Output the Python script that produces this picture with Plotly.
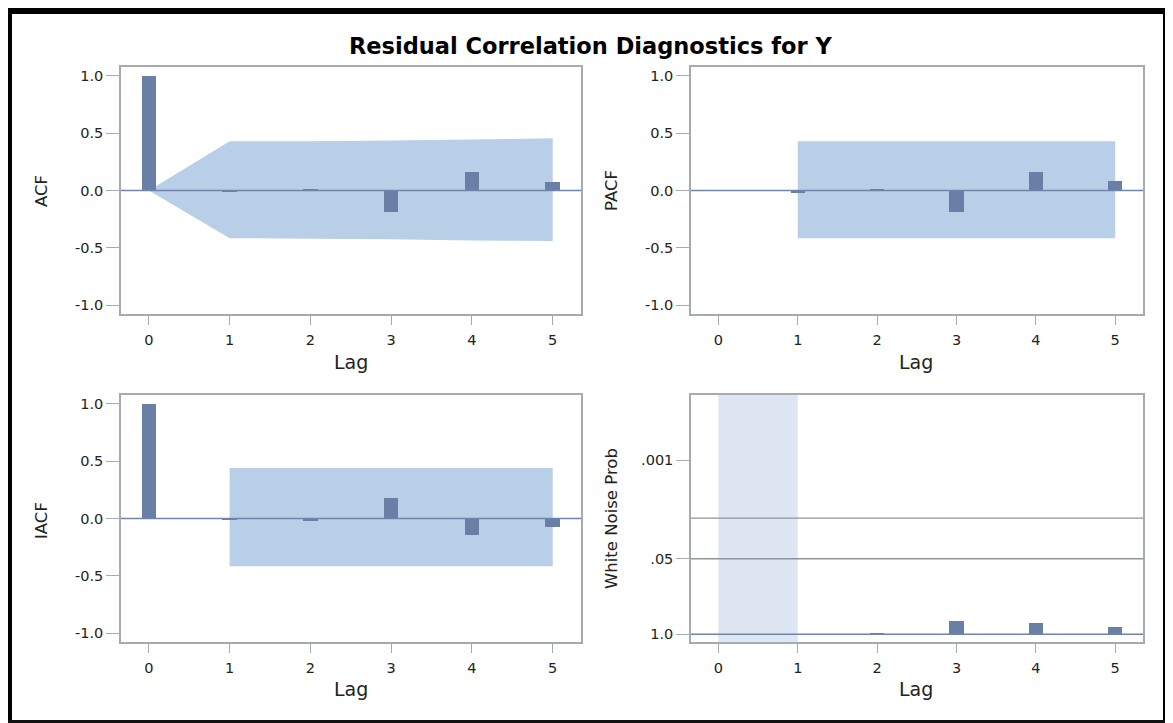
import math
import plotly.graph_objects as go

# ---------------- data ----------------
lags = [0, 1, 2, 3, 4, 5]
acf = [1.0, -0.015, 0.01, -0.19, 0.165, 0.07]
acf_upper = [0.0, 0.43, 0.43, 0.435, 0.445, 0.455]
acf_lower = [0.0, -0.415, -0.42, -0.425, -0.435, -0.44]

pacf_lags = [1, 2, 3, 4, 5]
pacf = [-0.02, 0.01, -0.19, 0.16, 0.08]
pacf_limit = [0.43, -0.415]

iacf = [1.0, -0.01, -0.025, 0.18, -0.14, -0.075]
iacf_limit = [0.44, -0.415]

wn_lags = [2, 3, 4, 5]
wn_prob = [0.96, 0.59, 0.63, 0.75]
wn_ticks = [1.0, 0.05, 0.001]
wn_tick_text = ["1.0", ".05", ".001"]
wn_ref = [0.01, 0.05]

title = "Residual Correlation Diagnostics for Y"
y_titles = ["ACF", "PACF", "IACF", "White Noise Prob"]
x_title = "Lag"

# ---------------- styles ----------------
OFF = 8            # page body margin
W, H = 1165, 715
BAR = "#6a7fa5"
BAND = "#b9cfe7"
SHADE = "#dde6f2"
FRAME = "#a6abb1"
TXT = "#222222"
FONT = "DejaVu Sans, Verdana, sans-serif"


def sx(px):
    return (px - OFF) / W


def sy(py):
    return 1 - (py - OFF) / H


def dom_x(a, b):
    return [sx(a), sx(b)]


def dom_y(top, bottom):
    return [sy(bottom), sy(top)]


def band_path(xs, ys):
    pts = [f"{x},{y}" for x, y in zip(xs, ys)]
    return "M " + " L ".join(pts) + " Z"


fig = go.Figure()

BW = 0.18
fig.add_trace(go.Bar(x=lags, y=acf, width=BW, marker=dict(color=BAR, line=dict(width=0)),
                     xaxis="x", yaxis="y"))
fig.add_trace(go.Bar(x=pacf_lags, y=pacf, width=BW, marker=dict(color=BAR, line=dict(width=0)),
                     xaxis="x2", yaxis="y2"))
fig.add_trace(go.Bar(x=lags, y=iacf, width=BW, marker=dict(color=BAR, line=dict(width=0)),
                     xaxis="x3", yaxis="y3"))
wn_vals = [-math.log10(p) for p in wn_prob]
fig.add_trace(go.Bar(x=wn_lags, y=wn_vals, width=BW, marker=dict(color=BAR, line=dict(width=0)),
                     xaxis="x4", yaxis="y4"))

shapes = []
# confidence bands (drawn below bars)
shapes.append(dict(type="path", xref="x", yref="y",
                   path=band_path(lags + lags[::-1], acf_upper + acf_lower[::-1]),
                   fillcolor=BAND, line=dict(width=0), layer="below"))
p0, p1 = pacf_lags[0], pacf_lags[-1]
shapes.append(dict(type="rect", xref="x2", yref="y2", x0=p0, x1=p1, y0=pacf_limit[1], y1=pacf_limit[0],
                   fillcolor=BAND, line=dict(width=0), layer="below"))
shapes.append(dict(type="rect", xref="x3", yref="y3", x0=lags[1], x1=lags[-1],
                   y0=iacf_limit[1], y1=iacf_limit[0],
                   fillcolor=BAND, line=dict(width=0), layer="below"))
shapes.append(dict(type="rect", xref="x4", yref="y4 domain", x0=lags[0], x1=lags[1], y0=0, y1=1,
                   fillcolor=SHADE, line=dict(width=0), layer="below"))
# zero reference lines
for ax in ["", "2", "3", "4"]:
    shapes.append(dict(type="line", xref=f"x{ax} domain", yref=f"y{ax}", x0=0, x1=1, y0=0, y1=0,
                       line=dict(color="#6f84aa", width=1.5), layer="above"))
# white noise significance lines
for p in wn_ref:
    v = -math.log10(p)
    shapes.append(dict(type="line", xref="x4 domain", yref="y4", x0=0, x1=1, y0=v, y1=v,
                       line=dict(color="#8f9499", width=1.4), layer="above"))
# black outer frame
shapes += [
    dict(type="rect", xref="paper", yref="paper", x0=sx(4), x1=sx(1172), y0=sy(14), y1=sy(6),
         fillcolor="black", line=dict(width=0)),
    dict(type="rect", xref="paper", yref="paper", x0=sx(4), x1=sx(12), y0=sy(724), y1=sy(6),
         fillcolor="black", line=dict(width=0)),
    dict(type="rect", xref="paper", yref="paper", x0=sx(1163), x1=sx(1172), y0=sy(724), y1=sy(6),
         fillcolor="black", line=dict(width=0)),
    dict(type="rect", xref="paper", yref="paper", x0=sx(4), x1=sx(1172), y0=sy(724), y1=sy(720),
         fillcolor="#111111", line=dict(width=0)),
]

xr = [-0.345, 5.35]
tickfont = dict(size=14.5, color=TXT, family=FONT)
common = dict(showline=True, linecolor=FRAME, linewidth=1.5, mirror=True,
              ticks="outside", tickcolor=FRAME, tickwidth=1.2, showgrid=False, zeroline=False,
              tickfont=tickfont)


def xaxis(dom, anchor):
    return dict(common, domain=dom, anchor=anchor, range=xr, tickvals=lags, ticklen=9,
                ticklabelstandoff=3)


def yaxis(dom, anchor):
    return dict(common, domain=dom, anchor=anchor, range=[-1.076, 1.076], ticklen=13,
                tickvals=[-1, -0.5, 0, 0.5, 1], ticktext=["-1.0", "-0.5", "0.0", "0.5", "1.0"])


top_y = dom_y(67, 314)
bot_y = dom_y(395, 642)
left_x = dom_x(121, 581)
right_x = dom_x(691, 1143)

wn_y = yaxis(bot_y, "x4")
wn_y.update(range=[-0.133, 4.12], tickvals=[-math.log10(p) for p in wn_ticks], ticktext=wn_tick_text)

annotations = [dict(text=f"<b>{title}</b>", xref="paper", yref="paper", x=sx(590), y=sy(46),
                    showarrow=False, font=dict(size=22.5, color="black", family=FONT),
                    xanchor="center", yanchor="middle")]
for t, (px, py) in zip(y_titles, [(41, 191), (611, 191), (41, 521), (611, 519)]):
    annotations.append(dict(text=t, xref="paper", yref="paper", x=sx(px), y=sy(py), textangle=-90,
                            showarrow=False, font=dict(size=16.5, color=TXT, family=FONT),
                            xanchor="center", yanchor="middle"))
for px, py in [(351, 362), (916, 362), (351, 689), (916, 689)]:
    annotations.append(dict(text=x_title, xref="paper", yref="paper", x=sx(px), y=sy(py),
                            showarrow=False, font=dict(size=19, color=TXT, family=FONT),
                            xanchor="center", yanchor="middle"))

fig.update_layout(
    width=W, height=H, margin=dict(l=0, r=0, t=0, b=0),
    paper_bgcolor="white", plot_bgcolor="white", showlegend=False, bargap=0,
    font=dict(family=FONT, color=TXT),
    xaxis=xaxis(left_x, "y"), yaxis=yaxis(top_y, "x"),
    xaxis2=xaxis(right_x, "y2"), yaxis2=yaxis(top_y, "x2"),
    xaxis3=xaxis(left_x, "y3"), yaxis3=yaxis(bot_y, "x3"),
    xaxis4=xaxis(right_x, "y4"), yaxis4=wn_y,
    shapes=shapes,
    annotations=annotations,
)

fig.write_html("out.html")
